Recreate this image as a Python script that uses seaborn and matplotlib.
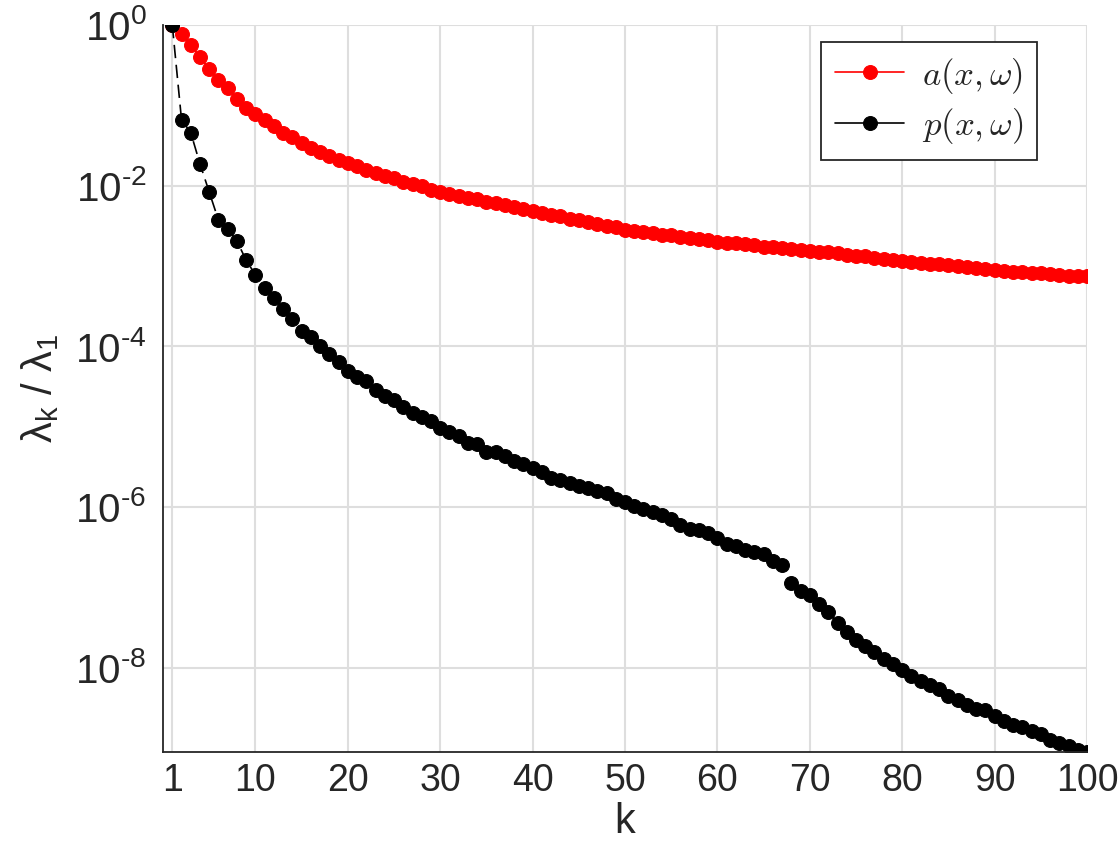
import numpy as np
import pandas as pd
import matplotlib
matplotlib.use("Agg")
import matplotlib.pyplot as plt
import seaborn as sns
from matplotlib.ticker import FixedLocator, NullLocator

# eigenvalue index
k_values = list(range(1, 101))

# log10(lambda_k / lambda_1)
log_a = [
    0.00, -0.11, -0.25, -0.40, -0.55, -0.68, -0.79, -0.92, -1.03, -1.11,
    -1.18, -1.26, -1.34, -1.39, -1.47, -1.53, -1.58, -1.63, -1.68, -1.72,
    -1.76, -1.80, -1.84, -1.88, -1.91, -1.95, -1.98, -2.01, -2.05, -2.08,
    -2.10, -2.13, -2.15, -2.17, -2.20, -2.22, -2.24, -2.26, -2.29, -2.31,
    -2.34, -2.36, -2.38, -2.41, -2.43, -2.45, -2.48, -2.50, -2.52, -2.55,
    -2.56, -2.58, -2.59, -2.61, -2.62, -2.64, -2.65, -2.67, -2.68, -2.70,
    -2.71, -2.72, -2.73, -2.74, -2.76, -2.77, -2.78, -2.79, -2.80, -2.81,
    -2.82, -2.83, -2.84, -2.86, -2.87, -2.88, -2.90, -2.91, -2.92, -2.94,
    -2.95, -2.96, -2.97, -2.98, -2.99, -3.00, -3.01, -3.02, -3.04, -3.05,
    -3.06, -3.07, -3.08, -3.09, -3.09, -3.10, -3.11, -3.12, -3.12, -3.13,
]

log_p = [
    0.00, -1.18, -1.34, -1.73, -2.08, -2.43, -2.54, -2.69, -2.93, -3.11,
    -3.27, -3.40, -3.53, -3.66, -3.81, -3.89, -4.00, -4.09, -4.20, -4.31,
    -4.38, -4.43, -4.55, -4.62, -4.67, -4.75, -4.83, -4.88, -4.93, -5.02,
    -5.07, -5.12, -5.20, -5.22, -5.31, -5.32, -5.37, -5.43, -5.47, -5.51,
    -5.56, -5.64, -5.66, -5.70, -5.74, -5.76, -5.80, -5.83, -5.90, -5.94,
    -5.99, -6.02, -6.06, -6.10, -6.15, -6.23, -6.27, -6.29, -6.32, -6.38,
    -6.46, -6.48, -6.54, -6.56, -6.58, -6.67, -6.72, -6.95, -7.05, -7.10,
    -7.21, -7.31, -7.44, -7.56, -7.65, -7.73, -7.80, -7.89, -7.96, -8.03,
    -8.10, -8.17, -8.22, -8.27, -8.35, -8.40, -8.46, -8.51, -8.53, -8.60,
    -8.67, -8.71, -8.74, -8.79, -8.83, -8.90, -8.94, -8.97, -9.02, -9.05,
]

x_ticks = [1, 10, 20, 30, 40, 50, 60, 70, 80, 90, 100]
y_tick_exps = [0, -2, -4, -6, -8]

TEXT_COLOR = "#262626"
GRID_COLOR = "#dedede"


def main():
    sns.set_style("whitegrid")
    plt.rcParams["font.family"] = ["Liberation Sans", "DejaVu Sans"]
    plt.rcParams["mathtext.fontset"] = "custom"
    plt.rcParams["mathtext.rm"] = "Liberation Sans"
    plt.rcParams["mathtext.it"] = "Liberation Sans"

    df = pd.DataFrame({
        "k": k_values,
        "a": 10.0 ** np.array(log_a),
        "p": 10.0 ** np.array(log_p),
    })

    fig = plt.figure(figsize=(11.19, 8.61), dpi=100)
    ax = fig.add_axes([0.1457, 0.1266, 0.9714 - 0.1457, 0.971 - 0.1266])

    sns.lineplot(data=df, x="k", y="a", ax=ax, color="red", marker="o",
                 markersize=10, markeredgecolor="red", linewidth=1.2,
                 linestyle="-", label=r"$a(x,\omega)$")
    sns.lineplot(data=df, x="k", y="p", ax=ax, color="black", marker="o",
                 markersize=10, markeredgecolor="black", linewidth=1.2,
                 linestyle=(0, (8, 4)), label=r"$p(x,\omega)$")

    ax.set_yscale("log")
    ax.set_xlim(0, 100)
    ax.set_ylim(10.0 ** min(log_p), 1.0)

    ax.xaxis.set_major_locator(FixedLocator(x_ticks))
    ax.set_xticklabels([str(t) for t in x_ticks])
    ax.yaxis.set_major_locator(FixedLocator([10.0 ** e for e in y_tick_exps]))
    ax.yaxis.set_minor_locator(NullLocator())
    ax.set_yticklabels([r"$\mathregular{10^{%s}}$" % str(e).replace("-", "\u2010")
                        for e in y_tick_exps])

    ax.grid(True, color=GRID_COLOR, linewidth=1.5)
    ax.set_axisbelow(True)
    for side in ["top", "right"]:
        ax.spines[side].set_visible(False)
    for side in ["left", "bottom"]:
        ax.spines[side].set_color(TEXT_COLOR)
        ax.spines[side].set_linewidth(1.3)

    ax.tick_params(axis="both", direction="in", length=8, width=1.3,
                   colors=TEXT_COLOR)
    ax.tick_params(axis="y", labelsize=29, pad=12)
    ax.tick_params(axis="x", labelsize=27, pad=8)

    ax.set_xlabel("k", fontsize=30, color=TEXT_COLOR, labelpad=2)
    ax.set_ylabel(r"$\mathregular{\lambda_k\ /\ \lambda_1}$", fontsize=30,
                  color=TEXT_COLOR, labelpad=10)

    leg = ax.legend(loc="upper right", bbox_to_anchor=(0.946, 0.977),
                    borderaxespad=0,
                    prop={"size": 25, "math_fontfamily": "cm"},
                    fancybox=False, framealpha=1, edgecolor=TEXT_COLOR,
                    handlelength=2.0, handletextpad=0.5, borderpad=0.4,
                    labelspacing=0.3)
    leg.get_frame().set_linewidth(1.3)
    for h in leg.get_lines():
        h.set_linestyle("-")

    fig.savefig("out.png", dpi=100)


if __name__ == "__main__":
    main()
